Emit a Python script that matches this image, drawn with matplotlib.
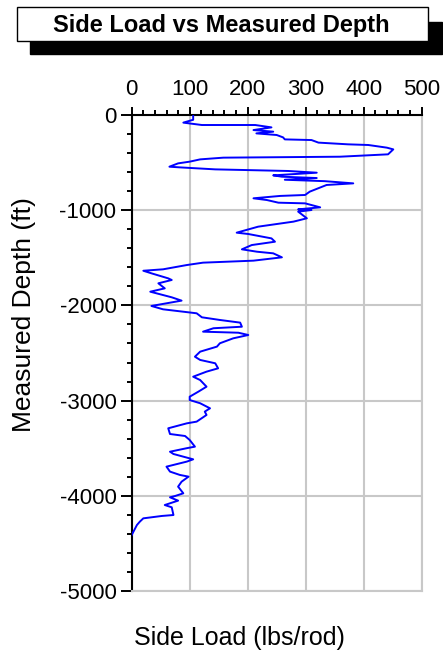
import matplotlib
matplotlib.use('Agg')
import matplotlib.pyplot as plt
from matplotlib.patches import Rectangle
from matplotlib.ticker import MultipleLocator

plt.rcParams['font.family'] = ['Liberation Sans', 'DejaVu Sans']
plt.rcParams['axes.unicode_minus'] = False

# side load (lbs/rod), top to bottom
side_load = [106, 106, 89, 121, 213, 241, 210, 244, 215, 250, 261, 264, 310, 322,
             373, 408, 440, 451, 442, 359, 158, 118, 100, 80, 65, 83, 144, 270,
             319, 244, 259, 319, 264, 333, 382, 336, 307, 299, 256, 210, 233, 253,
             299, 325, 287, 310, 287, 302, 279, 238, 218, 181, 201, 241, 247, 207,
             190, 216, 244, 259, 210, 164, 123, 95, 54, 20, 34, 63, 69, 46, 57, 32,
             69, 86, 34, 54, 112, 121, 152, 187, 190, 141, 123, 184, 201, 175, 152,
             147, 118, 109, 118, 144, 149, 129, 106, 118, 129, 115, 100, 100, 118,
             135, 126, 129, 112, 95, 63, 66, 92, 100, 109, 95, 66, 72, 106, 95, 60,
             66, 83, 98, 86, 80, 89, 75, 66, 80, 57, 69, 72, 52, 20, 14, 9, 3, 0]
depth = [0, -50, -80, -105, -105, -130, -158, -175, -193, -210, -235, -256, -263, -290,
         -308, -315, -343, -361, -413, -438, -448, -466, -490, -508, -543, -550, -571, -588,
         -606, -634, -648, -662, -680, -695, -718, -735, -805, -840, -850, -875, -893, -921,
         -928, -970, -991, -998, -1015, -1085, -1120, -1155, -1173, -1236, -1250, -1296, -1331, -1366,
         -1411, -1436, -1453, -1495, -1530, -1541, -1551, -1576, -1621, -1636, -1663, -1716, -1733, -1768, -1821, -1856,
         -1915, -1950, -2006, -2041, -2083, -2125, -2153, -2181, -2224, -2240, -2276, -2287, -2311, -2346, -2398,
         -2433, -2486, -2539, -2573, -2608, -2661, -2696, -2749, -2784, -2854, -2906, -2959, -2994, -3028,
         -3081, -3116, -3151, -3221, -3239, -3291, -3351, -3372, -3414, -3484, -3500, -3537, -3561, -3617, -3641, -3694,
         -3746, -3781, -3799, -3852, -3904, -3974, -4002, -4016, -4051, -4097, -4121, -4202, -4212, -4237, -4272, -4307, -4377, -4412]

x_ticks = [0, 100, 200, 300, 400, 500]
y_ticks = [0, -1000, -2000, -3000, -4000, -5000]

fig = plt.figure(figsize=(4.43, 6.52), dpi=100)

# title box with drop shadow
fig.add_artist(Rectangle((0.0677, 0.9167), 0.9293, 0.05, transform=fig.transFigure,
                         facecolor='black', edgecolor='black'))
fig.add_artist(Rectangle((0.0377, 0.9371), 0.9278, 0.0517, transform=fig.transFigure,
                         facecolor='white', edgecolor='black', linewidth=1.0))
fig.text(0.5, 0.961, 'Side Load vs Measured Depth', ha='center', va='center',
         fontsize=17, fontweight='bold')

ax = fig.add_axes([0.2973, 0.0936, 0.6546, 0.73])
ax.plot(side_load, depth, color='#0000ff', linewidth=1.4, zorder=3)

ax.set_xlim(0, 500)
ax.set_ylim(-5000, 0)
ax.set_xticks(x_ticks)
ax.set_yticks(y_ticks)
ax.xaxis.set_minor_locator(MultipleLocator(20))
ax.yaxis.set_minor_locator(MultipleLocator(200))
ax.xaxis.tick_top()
ax.grid(True, which='major', color='#c8c8c8', linewidth=1.5)
ax.set_axisbelow(True)

ax.tick_params(which='major', width=1.4, labelsize=16, color='black')
ax.tick_params(axis='x', which='major', length=6, pad=5)
ax.tick_params(axis='y', which='major', length=8, pad=3)
ax.tick_params(which='minor', length=3.5, width=1.4, color='black')
for side in ['left', 'top']:
    ax.spines[side].set_color('black')
    ax.spines[side].set_linewidth(1.5)
for side in ['right', 'bottom']:
    ax.spines[side].set_color('#c8c8c8')
    ax.spines[side].set_linewidth(1.5)

fig.text(0.055, 0.517, 'Measured Depth (ft)', rotation=90, ha='center', va='center', fontsize=19)
fig.text(0.541, 0.022, 'Side Load (lbs/rod)', ha='center', va='center', fontsize=18)

fig.savefig('out.png', dpi=100)
